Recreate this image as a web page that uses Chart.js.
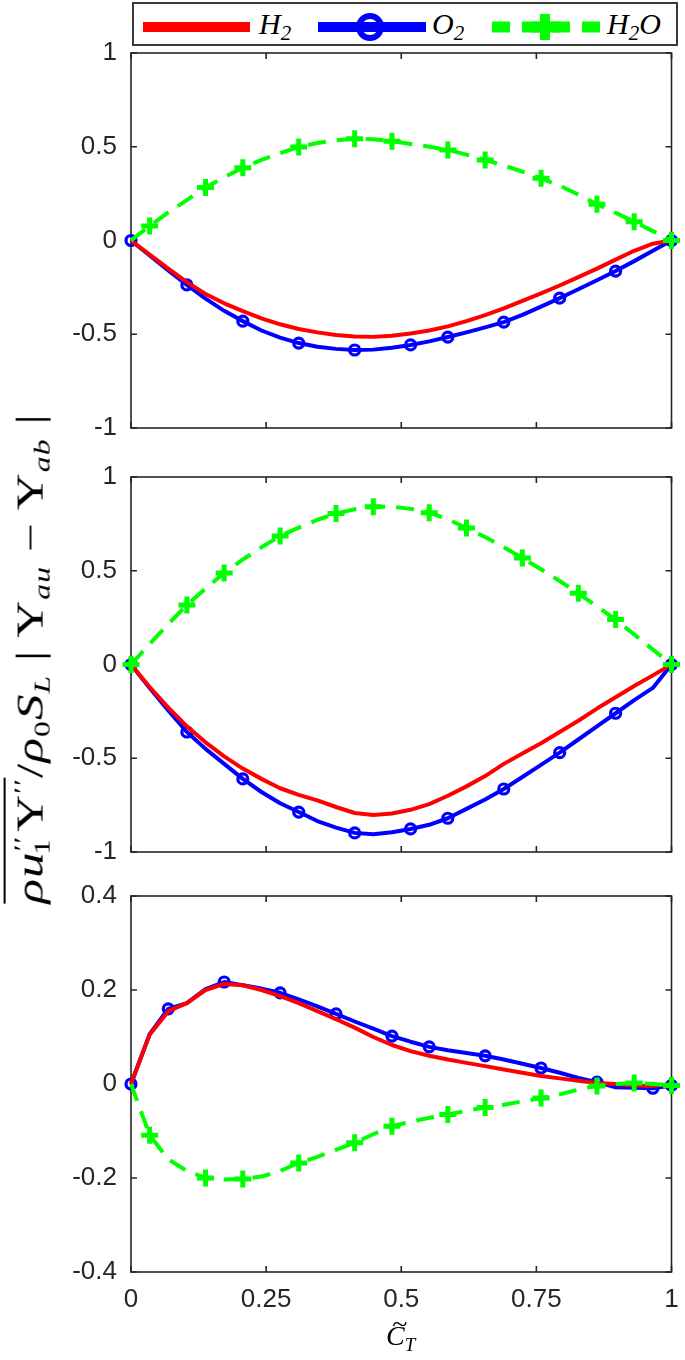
<!DOCTYPE html>
<html>
<head>
<meta charset="utf-8">
<script src="https://cdn.jsdelivr.net/npm/chart.js@4.4.1/dist/chart.umd.min.js"></script>
<style>
  html, body { margin: 0; padding: 0; background: #fff; }
  body { width: 685px; height: 1360px; position: relative; overflow: hidden; }
  .panel { position: absolute; left: 0; width: 685px; }
  #legend-box { position: absolute; left: 132px; top: 2px; width: 546px; height: 44px;
    box-sizing: border-box; border: 2px solid #3a3a3a; background: #fff; }
  #legend-svg { position: absolute; left: 0; top: 0; }
  .lg { position: absolute; top: 9px; font: italic 30px/30px "Liberation Serif", "Times New Roman", serif;
    color: #000; white-space: nowrap; }
  .lg sub { font-size: 70%; vertical-align: -0.28em; line-height: 0; }
  #ylab { position: absolute; white-space: nowrap; font: 37px/1 "Liberation Serif", "Times New Roman", serif;
    color: #000; transform-origin: 50% 50%; letter-spacing: 0.02em; }
  #ylab i { font-style: italic; }
  #ylab sub, #ylab sup { font-size: 62%; line-height: 0; }
  #ylab sub { vertical-align: -0.3em; }
  #ylab sup { vertical-align: 0.55em; }
  #ylab .ov { border-top: 2px solid #000; padding-top: 4px; }
  #ylab .after-sup { margin-left: -0.62em; margin-right: 0.2em; }
  #xlab { position: absolute; left: 386px; top: 1322px; font: italic 28px/1 "Liberation Serif", "Times New Roman", serif;
    color: #000; white-space: nowrap; }
  #xlab .c { position: relative; display: inline-block; }
  #xlab .t { position: absolute; left: 0.22em; top: -0.42em; font-style: normal; }
  #xlab sub { font-size: 68%; vertical-align: -0.3em; }
</style>
</head>
<body>

<div id="legend-box"></div>
<svg id="legend-svg" width="685" height="50">
  <line x1="143" y1="27" x2="250" y2="27" stroke="#ff0000" stroke-width="10"/>
  <line x1="318" y1="27" x2="426" y2="27" stroke="#0000ff" stroke-width="10"/>
  <circle cx="370" cy="27" r="11" fill="none" stroke="#0000ff" stroke-width="6"/>
  <line x1="492" y1="27" x2="600" y2="27" stroke="#00ff00" stroke-width="11" stroke-dasharray="18 12"/>
  <line x1="531" y1="27" x2="559" y2="27" stroke="#00ff00" stroke-width="11"/>
  <line x1="545" y1="14" x2="545" y2="40" stroke="#00ff00" stroke-width="10"/>
</svg>
<div class="lg" style="left:259px">H<sub>2</sub></div>
<div class="lg" style="left:432px">O<sub>2</sub></div>
<div class="lg" style="left:607px">H<sub>2</sub>O</div>

<div class="panel" style="top:38px;height:405px"><canvas id="c-top"></canvas></div>
<div class="panel" style="top:462px;height:405px"><canvas id="c-mid"></canvas></div>
<div class="panel" style="top:881px;height:479px"><canvas id="c-bot"></canvas></div>

<div id="ylab"><span class="ov"><i>ρu</i><sup>′′</sup><sub class="after-sup">1</sub>Y<sup>′′</sup></span>/<i>ρ</i><sub>0</sub><i>S</i><sub><i>L</i></sub> | Y<sub><i>au</i></sub> − Y<sub><i>ab</i></sub> |</div>
<div id="xlab"><span class="c">C<span class="t">~</span></span><sub>T</sub></div>

<script>
// ---- data ----
const ctGrid = [0, 0.0345, 0.069, 0.1034, 0.1379, 0.1724, 0.2069, 0.2414, 0.2759, 0.3103,
  0.3448, 0.3793, 0.4138, 0.4483, 0.4828, 0.5172, 0.5517, 0.5862, 0.6207, 0.6552,
  0.6897, 0.7241, 0.7586, 0.7931, 0.8276, 0.8621, 0.8966, 0.931, 0.9655, 1];
const xTicks = [0, 0.25, 0.5, 0.75, 1];
const yTicksWide = [-1, -0.5, 0, 0.5, 1];
const yTicksNarrow = [-0.4, -0.2, 0, 0.2, 0.4];

// top panel
const h2Top = [0, -0.075, -0.15, -0.222, -0.285, -0.335, -0.377, -0.415, -0.447, -0.472,
  -0.49, -0.504, -0.512, -0.514, -0.508, -0.496, -0.48, -0.458, -0.43, -0.398,
  -0.362, -0.322, -0.282, -0.24, -0.195, -0.15, -0.102, -0.055, -0.017, 0];
const o2Top = [0, -0.08, -0.16, -0.237, -0.31, -0.375, -0.43, -0.48, -0.518, -0.547,
  -0.567, -0.578, -0.584, -0.582, -0.572, -0.557, -0.538, -0.515, -0.49, -0.463,
  -0.435, -0.397, -0.353, -0.307, -0.26, -0.212, -0.163, -0.11, -0.055, 0];
const h2oTop = [0, 0.078, 0.15, 0.215, 0.283, 0.337, 0.388, 0.43, 0.466, 0.499,
  0.52, 0.535, 0.543, 0.54, 0.53, 0.515, 0.5, 0.483, 0.458, 0.43,
  0.4, 0.367, 0.332, 0.292, 0.245, 0.193, 0.148, 0.1, 0.05, 0];
const o2TopMarks = [0, 3, 6, 9, 12, 15, 17, 20, 23, 26, 29];
const h2oTopMarks = [1, 4, 6, 9, 12, 14, 17, 19, 22, 25, 27, 29];

// middle panel
const h2Mid = [0, -0.12, -0.23, -0.33, -0.415, -0.49, -0.555, -0.61, -0.66, -0.695,
  -0.725, -0.76, -0.792, -0.803, -0.795, -0.775, -0.745, -0.7, -0.65, -0.595,
  -0.53, -0.475, -0.42, -0.36, -0.3, -0.235, -0.175, -0.115, -0.058, 0];
const o2Mid = [0, -0.125, -0.245, -0.36, -0.45, -0.53, -0.61, -0.68, -0.74, -0.787,
  -0.835, -0.87, -0.898, -0.905, -0.895, -0.877, -0.855, -0.82, -0.77, -0.72,
  -0.664, -0.6, -0.535, -0.47, -0.4, -0.33, -0.26, -0.19, -0.125, 0];
const h2oMid = [0, 0.11, 0.215, 0.318, 0.405, 0.488, 0.56, 0.625, 0.685, 0.73,
  0.772, 0.805, 0.828, 0.842, 0.842, 0.83, 0.81, 0.775, 0.728, 0.68,
  0.625, 0.568, 0.508, 0.445, 0.38, 0.31, 0.24, 0.16, 0.08, 0];
const o2MidMarks = [0, 3, 6, 9, 12, 15, 17, 20, 23, 26, 29];
const h2oMidMarks = [0, 3, 5, 8, 11, 13, 16, 18, 21, 24, 26, 29];

// bottom panel
const h2Bot = [0, 0.105, 0.155, 0.172, 0.2, 0.213, 0.21, 0.2, 0.187, 0.172,
  0.155, 0.138, 0.12, 0.1, 0.083, 0.07, 0.06, 0.052, 0.045, 0.038,
  0.031, 0.024, 0.017, 0.012, 0.007, 0.002, 0, -0.003, -0.004, 0];
const o2Bot = [0, 0.106, 0.16, 0.172, 0.202, 0.217, 0.21, 0.203, 0.194, 0.18,
  0.165, 0.149, 0.133, 0.118, 0.102, 0.09, 0.079, 0.072, 0.066, 0.06,
  0.052, 0.043, 0.034, 0.024, 0.013, 0.004, -0.007, -0.008, -0.009, -0.003];
const h2oBot = [0, -0.109, -0.16, -0.185, -0.2, -0.203, -0.202, -0.197, -0.185, -0.168,
  -0.155, -0.14, -0.125, -0.107, -0.09, -0.08, -0.072, -0.065, -0.057, -0.05,
  -0.044, -0.037, -0.03, -0.022, -0.012, -0.004, 0, 0.002, 0, -0.003];
const o2BotMarks = [0, 2, 5, 8, 11, 14, 16, 19, 22, 25, 28, 29];
const h2oBotMarks = [1, 4, 6, 9, 12, 14, 17, 19, 22, 25, 27, 29];

const AXIS_COLOR = '#262626';
const TICK_FONT = { family: '"Liberation Sans", Arial, sans-serif', size: 26 };

// MATLAB-style box with inward ticks, drawn under the data
const boxTicks = {
  id: 'boxTicks',
  beforeDatasetsDraw(chart) {
    const { ctx, chartArea: a, scales: { x, y } } = chart;
    ctx.save();
    ctx.strokeStyle = AXIS_COLOR;
    ctx.lineWidth = 1.6;
    ctx.strokeRect(a.left, a.top, a.width, a.height);
    ctx.beginPath();
    x.ticks.forEach((t) => {
      const px = x.getPixelForValue(t.value);
      ctx.moveTo(px, a.bottom); ctx.lineTo(px, a.bottom - 6);
      ctx.moveTo(px, a.top); ctx.lineTo(px, a.top + 6);
    });
    y.ticks.forEach((t) => {
      const py = y.getPixelForValue(t.value);
      ctx.moveTo(a.left, py); ctx.lineTo(a.left + 6, py);
      ctx.moveTo(a.right, py); ctx.lineTo(a.right - 6, py);
    });
    ctx.stroke();
    ctx.restore();
  },
};

function pts(ys) {
  return ys.map((v, i) => ({ x: ctGrid[i], y: v }));
}

function drawPanel(id, h2, o2, h2o, o2Marks, h2oMarks, yTicks, bottomPanel) {
  return new Chart(document.getElementById(id), {
    type: 'line',
    data: {
      datasets: [
        {
          label: 'H2', data: pts(h2), order: 1,
          borderColor: '#ff0000', borderWidth: 4, pointRadius: 0,
        },
        {
          label: 'O2', data: pts(o2), order: 2,
          borderColor: '#0000ff', borderWidth: 4,
          pointStyle: 'circle',
          pointRadius: (c) => (o2Marks.includes(c.dataIndex) ? 5 : 0),
          pointBorderColor: '#0000ff', pointBackgroundColor: 'rgba(0,0,0,0)', pointBorderWidth: 3.2,
        },
        {
          label: 'H2O', data: pts(h2o), order: 0,
          borderColor: '#00ff00', borderWidth: 4, borderDash: [18, 11],
          pointStyle: 'cross',
          pointRadius: (c) => (h2oMarks.includes(c.dataIndex) ? 8.5 : 0),
          pointBorderColor: '#00ff00', pointBorderWidth: 5,
        },
      ],
    },
    options: {
      responsive: true,
      maintainAspectRatio: false,
      animation: false,
      devicePixelRatio: 1,
      clip: false,
      layout: { padding: { top: 15, bottom: bottomPanel ? 0 : 15, left: 0, right: 8 } },
      elements: { line: { tension: 0, borderJoinStyle: 'round' } },
      plugins: { legend: { display: false }, tooltip: { enabled: false } },
      scales: {
        x: {
          type: 'linear', min: 0, max: 1,
          afterBuildTicks: (s) => { s.ticks = xTicks.map((v) => ({ value: v })); },
          afterFit: (s) => {
            s.height = bottomPanel ? 88 : 0;
            s.paddingLeft = s.paddingRight = s.paddingTop = s.paddingBottom = 0;
          },
          grid: { display: false, drawTicks: false },
          border: { display: false },
          ticks: {
            display: bottomPanel, color: AXIS_COLOR, font: TICK_FONT, padding: 12,
            maxRotation: 0, autoSkip: false, callback: (v) => String(v),
          },
        },
        y: {
          type: 'linear', min: yTicks[0], max: yTicks[yTicks.length - 1],
          afterBuildTicks: (s) => { s.ticks = yTicks.map((v) => ({ value: v })); },
          afterFit: (s) => {
            s.width = 131;
            s.paddingLeft = s.paddingRight = s.paddingTop = s.paddingBottom = 0;
          },
          grid: { display: false, drawTicks: false },
          border: { display: false },
          ticks: { color: AXIS_COLOR, font: TICK_FONT, padding: 14, autoSkip: false, callback: (v) => String(v) },
        },
      },
    },
    plugins: [boxTicks],
  });
}

drawPanel('c-top', h2Top, o2Top, h2oTop, o2TopMarks, h2oTopMarks, yTicksWide, false);
drawPanel('c-mid', h2Mid, o2Mid, h2oMid, o2MidMarks, h2oMidMarks, yTicksWide, false);
drawPanel('c-bot', h2Bot, o2Bot, h2oBot, o2BotMarks, h2oBotMarks, yTicksNarrow, true);

// ---- rotated y label, stretched to the span it has in the figure ----
(function placeYLabel() {
  const el = document.getElementById('ylab');
  const w = el.offsetWidth;
  const h = el.offsetHeight;
  const span = 490, cx = 30, cy = 658;
  el.style.left = (cx - w / 2) + 'px';
  el.style.top = (cy - h / 2) + 'px';
  el.style.transform = `rotate(-90deg) scaleX(${span / w})`;
})();
</script>
</body>
</html>
